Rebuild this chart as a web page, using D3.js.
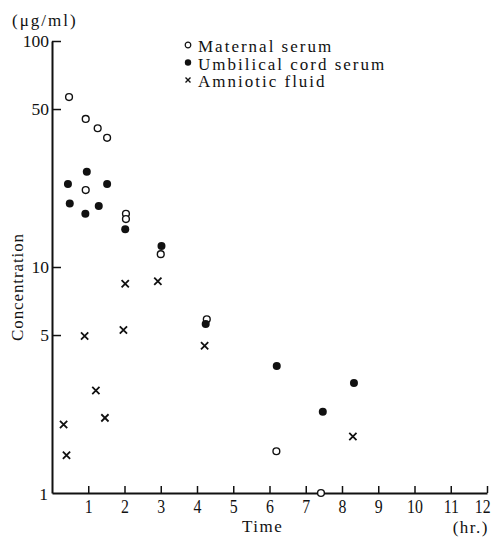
<!DOCTYPE html>
<html>
<head>
<meta charset="utf-8">
<script src="https://cdn.jsdelivr.net/npm/d3@7"></script>
<style>
  html, body { margin: 0; padding: 0; background: #fff; }
  svg { display: block; }
  text { font-family: "Liberation Serif", "DejaVu Serif", serif; fill: #111; }
</style>
</head>
<body>
<svg id="chart" width="494" height="538"></svg>
<script>
// ---- data ----
const maternalTime = [0.47, 0.93, 1.26, 1.52, 0.93, 2.04, 2.04, 3.0, 4.27, 6.19, 7.42];
const maternalConc = [56.5, 45.2, 41.1, 37.3, 21.9, 17.2, 16.3, 11.4, 5.87, 1.53, 1.0];

const cordTime = [0.44, 0.96, 1.52, 0.49, 0.92, 1.29, 2.02, 3.02, 4.24, 6.2, 7.47, 8.33];
const cordConc = [23.3, 26.4, 23.3, 19.1, 17.2, 18.6, 14.7, 12.4, 5.6, 3.65, 2.29, 3.07];

const amnioticTime = [2.02, 2.92, 0.9, 1.97, 4.21, 1.21, 1.46, 0.32, 0.4, 8.3];
const amnioticConc = [8.44, 8.64, 4.95, 5.26, 4.48, 2.84, 2.15, 2.01, 1.47, 1.78];

const xTicks = [1, 2, 3, 4, 5, 6, 7, 8, 9, 10, 11, 12];
const yTicks = [100, 50, 10, 5, 1];

const legendLabels = ["Maternal serum", "Umbilical cord serum", "Amniotic fluid"];

// ---- layout ----
const svg = d3.select("#chart");
const x = d3.scaleLinear().domain([0, 12]).range([52, 487]);
const y = d3.scaleLog().domain([1, 100]).range([493, 41]);

const ink = "#111";
const serif = "Liberation Serif";

// axes
const xAxis = d3.axisBottom(x).tickValues(xTicks).tickSizeInner(-7).tickSizeOuter(0).tickPadding(7);
const gx = svg.append("g").attr("transform", `translate(0,${y(1)})`).call(xAxis);
gx.attr("font-size", null).attr("font-family", null);
gx.select(".domain").attr("stroke", ink).attr("stroke-width", 2);
gx.selectAll(".tick line").attr("stroke", ink).attr("stroke-width", 1.5);
gx.selectAll(".tick text").style("font-size", "18px").style("font-family", serif).attr("fill", ink)
  .attr("transform", "scale(0.88,1)");
// last label sits just left of its tick, as in the reference
gx.selectAll(".tick text").filter(d => d === xTicks[xTicks.length - 1])
  .attr("text-anchor", "end").attr("x", 3.5);

const yAxis = d3.axisLeft(y).tickValues(yTicks.filter(d => d !== 1)).tickFormat(d3.format("d"))
  .tickSizeInner(-9).tickSizeOuter(0).tickPadding(3);
const gy = svg.append("g").attr("transform", `translate(${x(0)},0)`).call(yAxis);
gy.attr("font-size", null).attr("font-family", null);
gy.select(".domain").attr("stroke", ink).attr("stroke-width", 2);
gy.selectAll(".tick line").attr("stroke", ink).attr("stroke-width", 1.5);
gy.selectAll(".tick text").style("font-size", "17.5px").style("font-family", serif).attr("fill", ink);

// the "1" label at the corner
svg.append("text").attr("x", x(0) - 4).attr("y", y(1) + 7).attr("text-anchor", "end")
  .style("font-size", "17.5px").text(d3.format("d")(yTicks[yTicks.length - 1]));

// axis titles
svg.append("text").attr("x", 12).attr("y", 26).style("font-size", "17px").attr("letter-spacing", 2).text("(μg/ml)");
svg.append("text").attr("transform", `translate(23,${287}) rotate(-90)`)
  .attr("text-anchor", "middle").style("font-size", "17px").attr("letter-spacing", 0.9).text("Concentration");
svg.append("text").attr("x", 242).attr("y", 532).style("font-size", "17px").attr("letter-spacing", 1.5).text("Time");
svg.append("text").attr("x", 489).attr("y", 533).attr("text-anchor", "end").style("font-size", "17px").attr("letter-spacing", 1.5).text("(hr.)");

// marks
const plot = svg.append("g");
plot.selectAll(".mat").data(d3.zip(maternalTime, maternalConc)).join("circle")
  .attr("cx", d => x(d[0])).attr("cy", d => y(d[1])).attr("r", 3.4)
  .attr("fill", "#fff").attr("stroke", ink).attr("stroke-width", 1.4);

plot.selectAll(".cord").data(d3.zip(cordTime, cordConc)).join("circle")
  .attr("cx", d => x(d[0])).attr("cy", d => y(d[1])).attr("r", 4)
  .attr("fill", ink);

const cross = d3.symbol().type(d3.symbolTimes).size(36);
plot.selectAll(".amn").data(d3.zip(amnioticTime, amnioticConc)).join("path")
  .attr("d", cross).attr("transform", d => `translate(${x(d[0])},${y(d[1])})`)
  .attr("fill", "none").attr("stroke", ink).attr("stroke-width", 1.8);

// legend
const lg = svg.append("g").attr("transform", "translate(188,45)");
const rows = lg.selectAll("g").data(legendLabels).join("g")
  .attr("transform", (d, i) => `translate(0,${i * 17.5})`);
rows.append("text").attr("x", 10).attr("y", 7).style("font-size", "17px").attr("letter-spacing", 2).text(d => d);
rows.filter((d, i) => i === 0).append("circle").attr("r", 2.8).attr("fill", "#fff").attr("stroke", ink).attr("stroke-width", 1.2);
rows.filter((d, i) => i === 1).append("circle").attr("r", 3.2).attr("fill", ink);
rows.filter((d, i) => i === 2).append("path").attr("d", d3.symbol().type(d3.symbolTimes).size(18))
  .attr("fill", "none").attr("stroke", ink).attr("stroke-width", 1.4);
</script>
</body>
</html>
